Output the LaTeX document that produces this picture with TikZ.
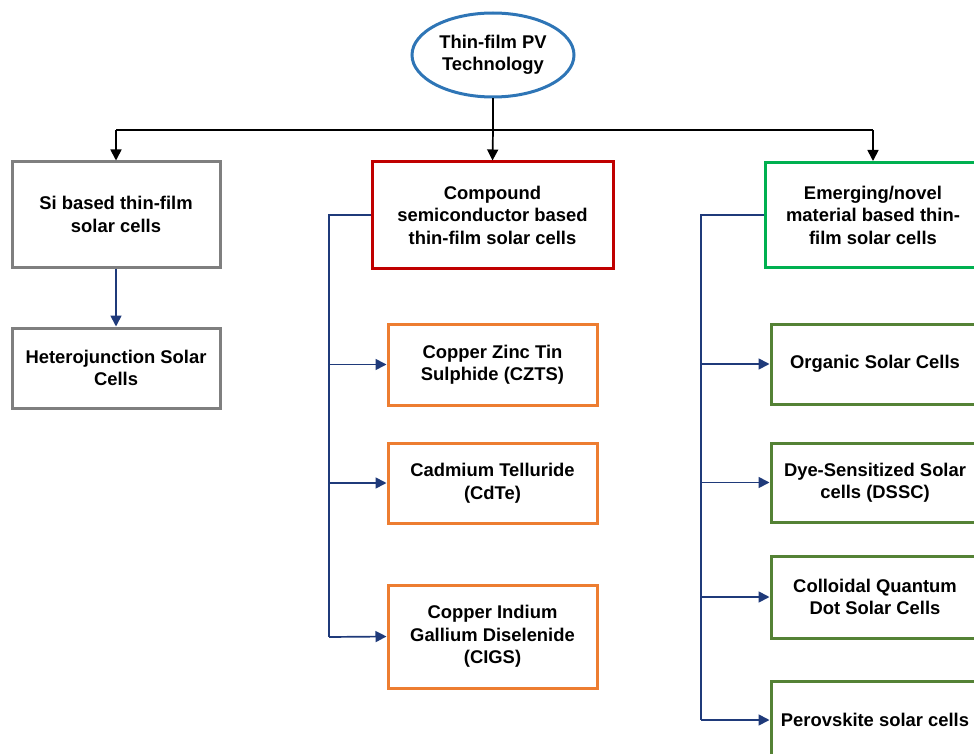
\documentclass[tikz,border=0pt]{standalone}
\usepackage{fontspec}
\setmainfont{Liberation Sans}
\usetikzlibrary{arrows.meta,shapes.geometric}
\definecolor{ellblue}{HTML}{2E75B6}
\definecolor{boxgray}{HTML}{7F7F7F}
\definecolor{boxred}{HTML}{C00000}
\definecolor{boxorange}{HTML}{ED7D31}
\definecolor{boxgreen}{HTML}{00B050}
\definecolor{boxolive}{HTML}{548235}
\definecolor{navy}{HTML}{1F3A7A}
\tikzset{
  lbl/.style={font=\bfseries\fontsize{18.4}{22.5}\selectfont, align=center, text=black},
  bx/.style={lbl, draw, line width=3pt, rectangle, inner sep=0pt},
  conn/.style={draw=navy, line width=1.7pt},
  carr/.style={conn, -{Triangle[length=11pt,width=11pt]}},
  barr/.style={draw=black, line width=1.7pt, -{Triangle[length=11pt,width=11pt]}},
}
\begin{document}
\begin{tikzpicture}[x=1pt,y=-1pt]
\useasboundingbox (0,0) rectangle (974,754);
\node[lbl, draw=ellblue, line width=3pt, ellipse, minimum width=162pt, minimum height=84pt, inner sep=0pt] (root) at (493,55) {Thin-film PV\\Technology};
\node[bx, draw=boxgray, minimum width=208pt, minimum height=105pt] (si) at (116,214.5) {Si based thin-film\\solar cells};
\node[bx, draw=boxgray, minimum width=208pt, minimum height=80pt] (het) at (116,368) {Heterojunction Solar\\Cells};
\node[bx, draw=boxred, minimum width=241pt, minimum height=106pt] (comp) at (492.5,215) {Compound\\semiconductor based\\thin-film solar cells};
\node[bx, draw=boxorange, minimum width=209pt, minimum height=81pt] (czts) at (492.5,364.5) {Copper Zinc Tin\\Sulphide (CZTS)};
\node[bx, draw=boxorange, minimum width=209pt, minimum height=80pt] (cdte) at (492.5,483) {Cadmium Telluride\\(CdTe)};
\node[bx, draw=boxorange, minimum width=209pt, minimum height=103pt] (cigs) at (492.5,636.5) {Copper Indium\\Gallium Diselenide\\(CIGS)};
\node[bx, draw=boxgreen, minimum width=216pt, minimum height=105pt] (emer) at (873,215) {Emerging/novel\\material based thin-\\film solar cells};
\node[bx, draw=boxolive, minimum width=208pt, minimum height=80pt] (org) at (875,364) {Organic Solar Cells};
\node[bx, draw=boxolive, minimum width=208pt, minimum height=79pt] (dssc) at (875,482.5) {Dye-Sensitized Solar\\cells (DSSC)};
\node[bx, draw=boxolive, minimum width=208pt, minimum height=82pt] (cqd) at (875,597) {Colloidal Quantum\\Dot Solar Cells};
\node[bx, draw=boxolive, minimum width=208pt, minimum height=78pt] (per) at (875,720) {Perovskite solar cells};
% top tree
\coordinate (hm) at (493,130);
\coordinate (hl) at (116,130);
\coordinate (hr) at (873,130);
\draw[black, line width=1.7pt] (root.south) -- (hm);
\draw[black, line width=1.7pt] (hl) -- (hr);
\draw[barr] (hl) -- (si.north);
\draw[barr] (hm) -- (comp.north);
\draw[barr] (hr) -- (emer.north);
% si branch
\draw[carr] (si.south) -- (het.north);
% compound branch
\coordinate (ct) at (329,215);
\coordinate (cb) at (329,637);
\draw[conn] (comp.west) -- (ct) -- (cb);
\draw[carr] (ct |- czts.west) -- (czts.west);
\draw[carr] (ct |- cdte.west) -- (cdte.west);
\draw[carr] (cb) -- (cigs.west);
% emerging branch
\coordinate (et) at (701,215);
\coordinate (eb) at (701,720);
\draw[conn] (emer.west) -- (et) -- (eb);
\draw[carr] (et |- org.west) -- (org.west);
\draw[carr] (et |- dssc.west) -- (dssc.west);
\draw[carr] (et |- cqd.west) -- (cqd.west);
\draw[carr] (eb) -- (per.west);
\end{tikzpicture}
\end{document}
